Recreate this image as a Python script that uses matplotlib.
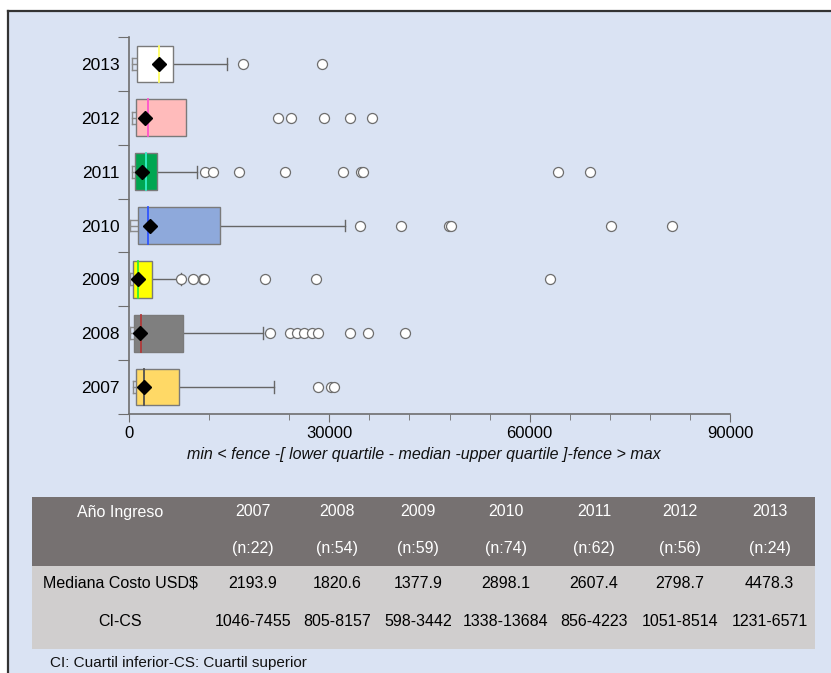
import matplotlib
matplotlib.use("Agg")
import matplotlib.pyplot as plt
from matplotlib.patches import Rectangle
from matplotlib.lines import Line2D
import numpy as np

plt.rcParams['font.family'] = ['Liberation Sans', 'DejaVu Sans']

# ---- data (USD cost per admission year) ----
years = ["2007", "2008", "2009", "2010", "2011", "2012", "2013"]
n_cases = [22, 54, 59, 74, 62, 56, 24]
medians = [2193.9, 1820.6, 1377.9, 2898.1, 2607.4, 2798.7, 4478.3]
q1 = [1046, 805, 598, 1338, 856, 1051, 1231]
q3 = [7455, 8157, 3442, 13684, 4223, 8514, 6571]
whisker_lo = [650, 150, 200, 150, 450, 500, 400]
whisker_hi = [21750, 20000, 7800, 32350, 10150, 8514, 14650]
center_marker = [2200, 1700, 1400, 3150, 1900, 2350, 4550]
outliers = {
    "2007": [28350, 30250, 30650],
    "2008": [21100, 24050, 25150, 26150, 27450, 28350, 33150, 35850, 41300],
    "2009": [7800, 9600, 11050, 11300, 20300, 27950, 63000],
    "2010": [34600, 40800, 47900, 48250, 72250, 81300],
    "2011": [11400, 12550, 16500, 23350, 32050, 34800, 35000, 64300, 69100],
    "2012": [22250, 24250, 29150, 33150, 36350],
    "2013": [17050, 28850],
}
box_colors = ["#FFD966", "#7F7F7F", "#FFFF00", "#8EA9DB", "#00A651", "#FFBBBB", "#FFFFFF"]
median_colors = ["#505050", "#B03A3A", "#33EE33", "#2F55FF", "#33F0C8", "#FF55CC", "#FFFF66"]

x_major = [0, 30000, 60000, 90000]
x_minor = [12000, 24000, 36000, 42000, 48000, 54000, 66000, 72000, 78000, 84000]
xlabel = "min < fence -[ lower quartile - median -upper quartile ]-fence > max"

row_header = "Año Ingreso"
row_median = "Mediana Costo USD$"
row_range = "CI-CS"
footnote = "CI: Cuartil inferior-CS: Cuartil superior"

# ---- figure ----
W, H = 831, 673
BG = "#DAE3F3"
fig = plt.figure(figsize=(W / 100, H / 100), dpi=100)
fig.patch.set_facecolor("white")

# full-figure overlay in pixel units for frame, table and notes
ov = fig.add_axes([0, 0, 1, 1], zorder=0)
ov.set_xlim(0, W)
ov.set_ylim(H, 0)
ov.axis("off")
ov.add_patch(Rectangle((8, 11), W - 8, H - 11, facecolor=BG, edgecolor="none"))
ov.add_line(Line2D([8, W], [11, 11], color="#333333", lw=1.6))
ov.add_line(Line2D([8, 8], [11, H], color="#333333", lw=1.6))

# ---- box plot axes ----
ax_l, ax_r, ax_t, ax_b = 129, 730, 37, 414
ax = fig.add_axes([ax_l / W, 1 - ax_b / H, (ax_r - ax_l) / W, (ax_b - ax_t) / H], zorder=2)
ax.set_facecolor("none")
ax.set_xlim(0, 90000)
ax.set_ylim(-0.5, len(years) - 0.5)

edge = "#7A7A7A"
half_box = 0.34
half_cap = 0.11
for i, yr in enumerate(years):
    y = i
    # lower fence bracket
    ax.plot([whisker_lo[i], whisker_lo[i]], [y - half_cap, y + half_cap], color="#8C8C8C", lw=1, zorder=3)
    for yy in (y - half_cap, y, y + half_cap):
        ax.plot([whisker_lo[i], q1[i]], [yy, yy], color="#8C8C8C", lw=1, zorder=3)
    # upper whisker
    if whisker_hi[i] > q3[i]:
        ax.plot([q3[i], whisker_hi[i]], [y, y], color="#666666", lw=1, zorder=3)
        ax.plot([whisker_hi[i], whisker_hi[i]], [y - half_cap, y + half_cap], color="#666666", lw=1, zorder=3)
    # box
    ax.add_patch(Rectangle((q1[i], y - half_box), q3[i] - q1[i], 2 * half_box,
                           facecolor=box_colors[i], edgecolor=edge, lw=1, zorder=4))
    ax.plot([medians[i], medians[i]], [y - half_box, y + half_box], color=median_colors[i], lw=1.3, zorder=5)
    ax.plot([center_marker[i]], [y], marker="D", ms=7.5, color="black", zorder=6)
    # outliers
    ov_x = outliers[yr]
    ax.plot(ov_x, [y] * len(ov_x), linestyle="none", marker="o", ms=7.2,
            markerfacecolor="white", markeredgecolor="#6E6E6E", markeredgewidth=0.9, zorder=6)

for s in ("top", "right"):
    ax.spines[s].set_visible(False)
for s in ("left", "bottom"):
    ax.spines[s].set_color("#6E6E6E")
    ax.spines[s].set_linewidth(1.2)

ax.set_xticks(x_major)
ax.set_xticklabels([str(v) for v in x_major], fontsize=12)
ax.set_xticks(x_minor, minor=True)
ax.tick_params(axis="x", which="major", length=6, color="#6E6E6E", pad=3)
ax.tick_params(axis="x", which="minor", length=4, color="#6E6E6E")

ax.set_yticks(np.arange(-0.5, len(years), 1.0))
ax.set_yticklabels([])
ax.set_yticks(np.arange(len(years)), minor=True)
ax.set_yticklabels(years, minor=True, fontsize=12.5)
ax.tick_params(axis="y", which="major", length=8, color="#6E6E6E")
ax.tick_params(axis="y", which="minor", length=0, pad=7)

ov.text(424, 455, xlabel, fontsize=11.5, style="italic", ha="center", va="center", color="#111111")

# ---- summary table ----
col_edges = [32, 208, 298, 376, 460, 552, 636, 724, 815]
row_edges = [497, 530, 566, 601, 649]
header_bg = "#767171"
body_bg = "#D0CECE"
ov.add_patch(Rectangle((col_edges[0], row_edges[0]), col_edges[-1] - col_edges[0],
                       row_edges[2] - row_edges[0], facecolor=header_bg, edgecolor="none", zorder=1))
ov.add_patch(Rectangle((col_edges[0], row_edges[2]), col_edges[-1] - col_edges[0],
                       row_edges[4] - row_edges[2], facecolor=body_bg, edgecolor="none", zorder=1))

text_y = [512, 548, 583, 622]
centers = [(col_edges[k] + col_edges[k + 1]) / 2 for k in range(len(col_edges) - 1)]
centers[0] = 120
fs = 11.5
ov.text(centers[0], text_y[0], row_header, ha="center", va="center", fontsize=fs, color="white", zorder=2)
ov.text(centers[0], text_y[2], row_median, ha="center", va="center", fontsize=fs, color="black", zorder=2)
ov.text(centers[0], text_y[3], row_range, ha="center", va="center", fontsize=fs, color="black", zorder=2)
for i, yr in enumerate(years):
    cx = centers[i + 1]
    ov.text(cx, text_y[0], yr, ha="center", va="center", fontsize=fs, color="white", zorder=2)
    ov.text(cx, text_y[1], f"(n:{n_cases[i]})", ha="center", va="center", fontsize=fs, color="white", zorder=2)
    ov.text(cx, text_y[2], f"{medians[i]:.1f}", ha="center", va="center", fontsize=fs, color="black", zorder=2)
    ov.text(cx, text_y[3], f"{q1[i]}-{q3[i]}", ha="center", va="center", fontsize=fs, color="black", zorder=2)

ov.text(50, 663, footnote, ha="left", va="center", fontsize=11, color="#111111", zorder=2)

fig.savefig("out.png", dpi=100, facecolor=fig.get_facecolor())
